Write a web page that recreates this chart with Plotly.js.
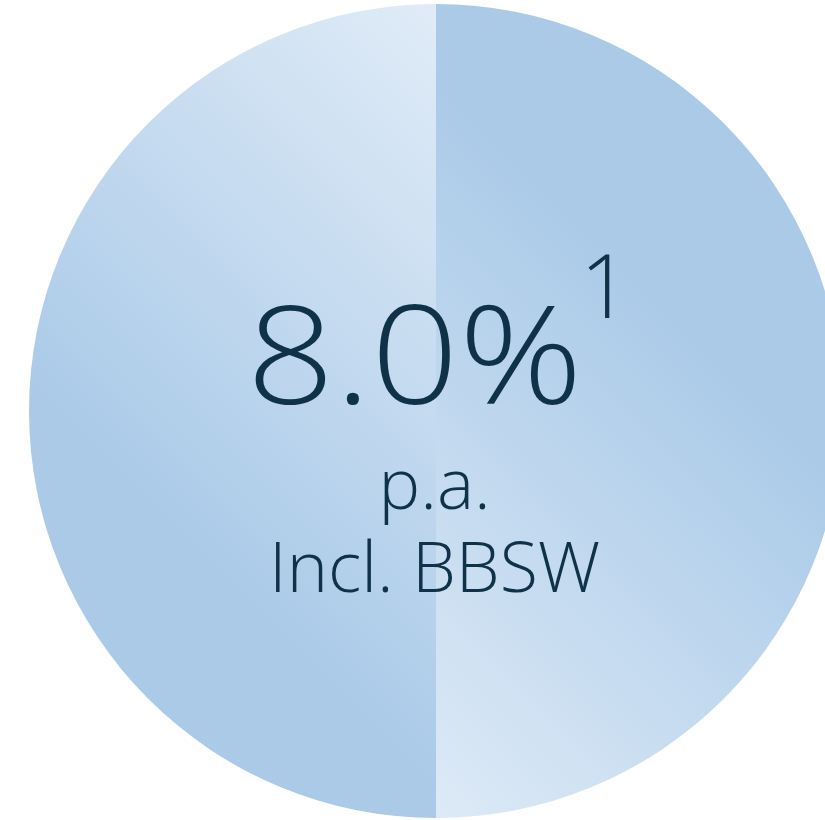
<!DOCTYPE html>
<html>
<head>
<meta charset="utf-8">
<script src="https://cdn.plot.ly/plotly-3.0.1.min.js"></script>
<style>
html,body{margin:0;padding:0;overflow:hidden;background:#fff;width:825px;height:820px;}
#chart{width:850px;height:820px;}
</style>
</head>
<body>
<div id="chart"></div>
<script>
// Data
const sliceLabels = ['Left half', 'Right half'];
const sliceValues = [50, 50];
const headline = '8.0%';
const footnoteMark = '1';
const subLine1 = 'p.a.';
const subLine2 = 'Incl. BBSW';

const W = 850, H = 820;
const cx = 436, cy = 411, R = 407;
const px = x => x / W;
const py = y => 1 - y / H;
const textColor = '#0f3249';
const fontFam = '"Open Sans", Roboto, sans-serif';
const sub = s => '<span style="font-size:70px">' + s + '</span>';

const data = [{
  type: 'pie',
  labels: sliceLabels,
  values: sliceValues,
  sort: false,
  direction: 'counterclockwise',
  rotation: 0,
  textinfo: 'none',
  hoverinfo: 'skip',
  showlegend: false,
  marker: {colors: ['#c4daf0', '#c4daf0'], line: {width: 0}},
  domain: {x: [px(cx - R), px(cx + R)], y: [1 - (cy + R) / H, 1 - (cy - R) / H]}
}];

const layout = {
  width: W, height: H,
  margin: {l: 0, r: 0, t: 0, b: 0},
  paper_bgcolor: '#ffffff',
  showlegend: false,
  annotations: [
    {text: headline, x: px(414), y: py(352), xref: 'paper', yref: 'paper', xanchor: 'center', yanchor: 'middle', showarrow: false,
     font: {family: fontFam, size: 136, color: textColor, weight: 300}},
    {text: footnoteMark, x: px(605), y: py(284), xref: 'paper', yref: 'paper', xanchor: 'center', yanchor: 'middle', showarrow: false,
     font: {family: fontFam, size: 88, color: textColor, weight: 300}},
    {text: sub(subLine1) + '<br>' + sub(subLine2), x: px(435), y: py(523), xref: 'paper', yref: 'paper',
     xanchor: 'center', yanchor: 'middle', align: 'center', showarrow: false,
     font: {family: fontFam, size: 64, color: textColor, weight: 300}}
  ]
};

function applyGradients(gd) {
  const svg = gd.querySelector('svg.main-svg');
  const NS = 'http://www.w3.org/2000/svg';
  let defs = svg.querySelector('defs');
  if (!defs) { defs = document.createElementNS(NS, 'defs'); svg.insertBefore(defs, svg.firstChild); }
  const light = '#dfebf7', dark = '#aacae8';
  const grads = {
    left: {id: 'gradLeft', x1: 0, y1: -R, x2: -385, y2: -21},
    right: {id: 'gradRight', x1: 0, y1: R, x2: 385, y2: 21}
  };
  Object.values(grads).forEach(g => {
    const lg = document.createElementNS(NS, 'linearGradient');
    lg.setAttribute('id', g.id);
    lg.setAttribute('gradientUnits', 'userSpaceOnUse');
    lg.setAttribute('x1', g.x1); lg.setAttribute('y1', g.y1);
    lg.setAttribute('x2', g.x2); lg.setAttribute('y2', g.y2);
    [[0, light], [1, dark]].forEach(([o, c]) => {
      const s = document.createElementNS(NS, 'stop');
      s.setAttribute('offset', o); s.setAttribute('stop-color', c);
      lg.appendChild(s);
    });
    defs.appendChild(lg);
  });
  const paths = gd.querySelectorAll('.slice path.surface');
  // slice 0 is drawn on the right half, slice 1 on the left half
  paths.forEach((p, i) => {
    p.style.fill = 'url(#' + (i === 0 ? grads.right.id : grads.left.id) + ')';
  });
  // widen the headline glyphs slightly (reference face is wider than Open Sans)
  const headText = gd.querySelectorAll('.annotation-text')[0];
  if (headText) {
    headText.style.transformBox = 'fill-box';
    headText.style.transformOrigin = 'center';
    headText.style.transform = 'scaleX(1.13)';
  }
}

Plotly.newPlot('chart', data, layout, {staticPlot: true, displayModeBar: false}).then(applyGradients);
</script>
</body>
</html>
